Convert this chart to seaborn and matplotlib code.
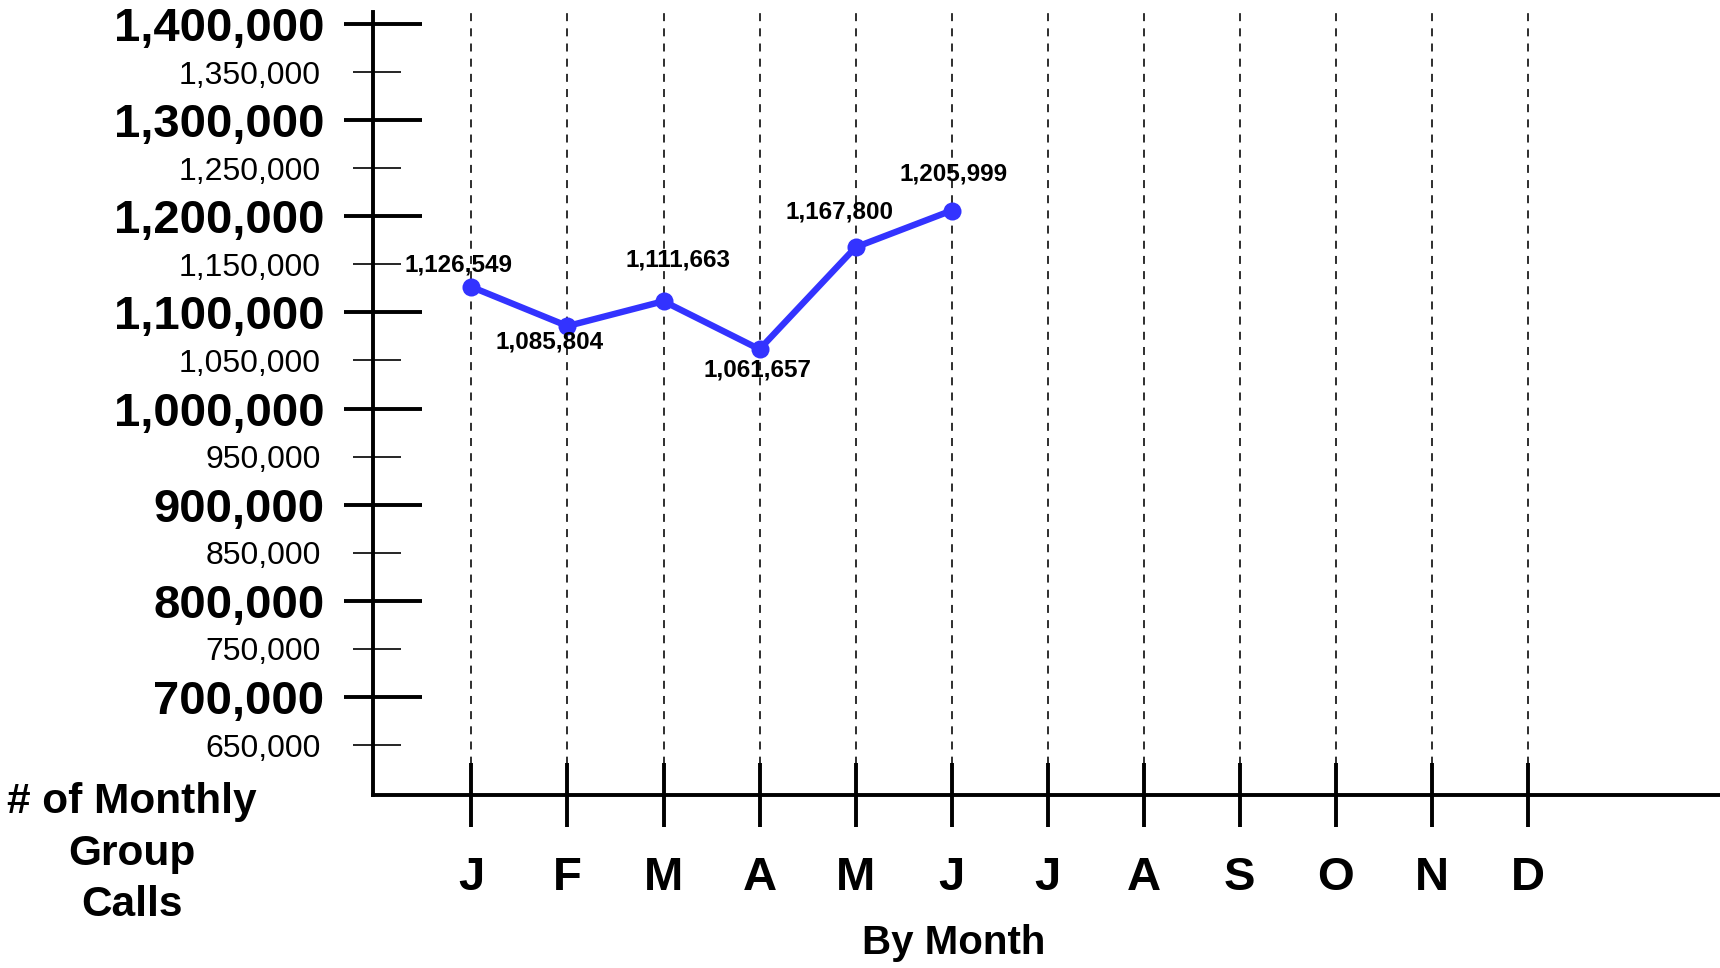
import numpy as np
import pandas as pd
import matplotlib
matplotlib.use('Agg')
import matplotlib.pyplot as plt
import seaborn as sns

# ---- data ----
months = ['J', 'F', 'M', 'A', 'M', 'J', 'J', 'A', 'S', 'O', 'N', 'D']
calls = [1126549, 1085804, 1111663, 1061657, 1167800, 1205999]
major_ticks = [700000, 800000, 900000, 1000000, 1100000, 1200000, 1300000, 1400000]
minor_ticks = [650000, 750000, 850000, 950000, 1050000, 1150000, 1250000, 1350000]
y_title = '# of Monthly\nGroup\nCalls'
x_title = 'By Month'

# label placement (offset points from each marker)
label_offsets = [(-9, 16), (-12.7, -11.2), (10.6, 29.4), (-1.7, -15.2), (-11.5, 25.3), (1.5, 26.6)]

sns.set_theme(style='white')
plt.rcParams['font.family'] = ['Liberation Sans', 'DejaVu Sans']

fig = plt.figure(figsize=(17.2, 9.68), dpi=100)
ax = fig.add_axes([0.2169, 0.1787, 0.7831, 0.8092])
ax.set_facecolor('white')

df = pd.DataFrame({'month': np.arange(len(calls)), 'calls': calls})
sns.lineplot(data=df, x='month', y='calls', ax=ax, color='#3333ff', lw=4.6,
             marker='o', markersize=13, markeredgewidth=0, zorder=5)

ax.set_xlim(-1.024, 13.0)
ax.set_ylim(598000, 1412800)

# vertical dashed month guides
ax.vlines(np.arange(len(months)), 0, 1, transform=ax.get_xaxis_transform(),
          colors='black', linestyles=[(0, (5, 4.5))], linewidth=1.15, zorder=1)

# y tick marks (asymmetric crossing lines)
ytr = ax.get_yaxis_transform()
ax.hlines(major_ticks, -0.0215, 0.0364, transform=ytr, colors='black',
          linewidth=2.8, clip_on=False, zorder=3)
ax.hlines(minor_ticks, -0.0149, 0.0208, transform=ytr, colors='black',
          linewidth=1.2, clip_on=False, zorder=3)

ax.set_yticks(major_ticks)
ax.set_yticklabels([f'{v:,}' for v in major_ticks], fontsize=34, fontweight='bold', color='black')
ax.set_yticks(minor_ticks, minor=True)
ax.set_yticklabels([f'{v:,}' for v in minor_ticks], minor=True, fontsize=23, color='black')
ax.tick_params(axis='y', which='both', left=True, length=0)
ax.tick_params(axis='y', which='major', pad=35)
ax.tick_params(axis='y', which='minor', pad=37.5)

ax.set_xticks(np.arange(len(months)))
ax.set_xticklabels(months, fontsize=34, fontweight='bold', color='black')
ax.tick_params(axis='x', which='major', bottom=True, direction='inout', length=46,
               width=2.8, color='black', pad=21)

for s in ['top', 'right']:
    ax.spines[s].set_visible(False)
for s in ['left', 'bottom']:
    ax.spines[s].set_linewidth(2.8)
    ax.spines[s].set_color('black')

ax.set_ylabel(y_title, rotation=0, fontsize=30.5, fontweight='bold', color='black',
              ha='center', va='center', linespacing=1.36)
ax.yaxis.set_label_coords(-0.179, -0.0748)
ax.set_xlabel(x_title, fontsize=29, fontweight='bold', color='black')
ax.xaxis.set_label_coords(0.431, -0.189)
ax.xaxis.label.set_va('center')

for i, (v, off) in enumerate(zip(calls, label_offsets)):
    ax.annotate(f'{v:,}', (i, v), xytext=off, textcoords='offset points',
                ha='center', va='center', fontsize=17.5, fontweight='bold',
                color='black', zorder=6)

fig.savefig('out.png', dpi=100, facecolor='white')
